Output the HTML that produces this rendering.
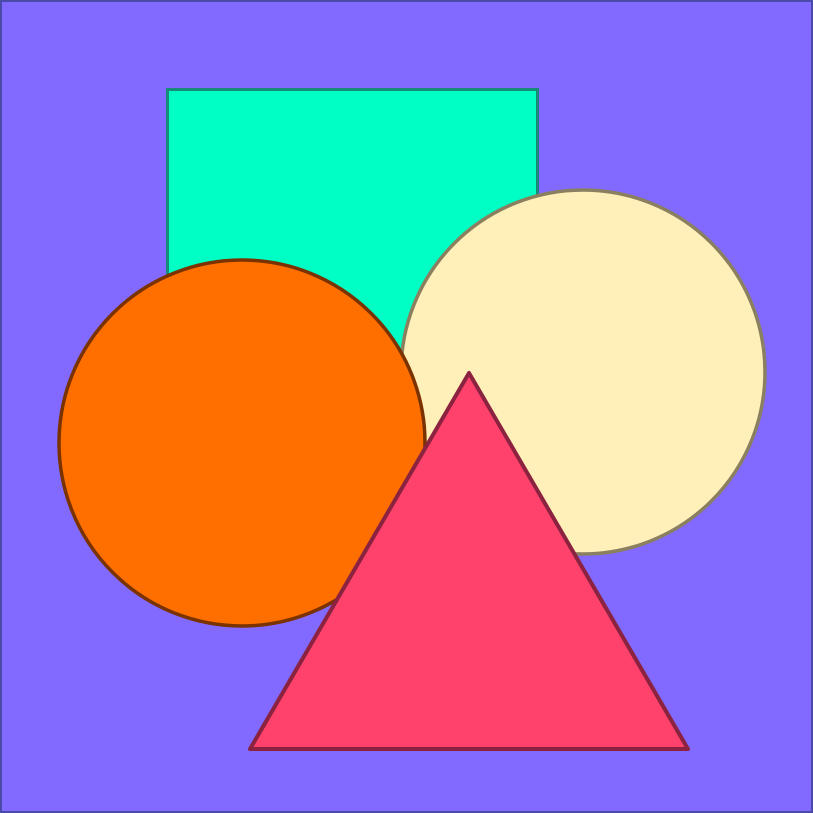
<!DOCTYPE html>
<html><head><meta charset="utf-8"><style>html,body{margin:0;padding:0;background:#8269ff;}svg{display:block}</style></head>
<body>
<svg width="813" height="813" viewBox="0 0 813 813">
<rect x="1" y="1" width="811" height="811" fill="#8269ff" stroke="#4a4aa8" stroke-width="2"/>
<rect x="167.5" y="89.5" width="370" height="330" fill="#00ffc4" stroke="#1a8a78" stroke-width="3"/>
<circle cx="583" cy="372" r="182" fill="#ffefb9" stroke="#8a8060" stroke-width="3.5"/>
<circle cx="242" cy="443" r="183" fill="#ff6f00" stroke="#7a3200" stroke-width="3.5"/>
<polygon points="469,373 250,749 688,749" fill="#ff426b" stroke="#8a2240" stroke-width="4" stroke-linejoin="round"/>
</svg>
</body></html>
